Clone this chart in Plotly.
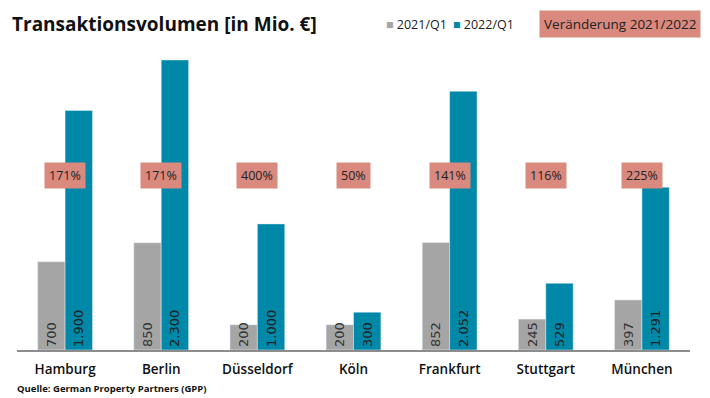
import plotly.graph_objects as go

cities = ["Hamburg", "Berlin", "Düsseldorf", "Köln", "Frankfurt", "Stuttgart", "München"]
q1_2021 = [700, 850, 200, 200, 852, 245, 397]
q1_2022 = [1900, 2300, 1000, 300, 2052, 529, 1291]
labels_2021 = ["700", "850", "200", "200", "852", "245", "397"]
labels_2022 = ["1.900", "2.300", "1.000", "300", "2.052", "529", "1.291"]
changes = [f"{round((b - a) / a * 100)}%" for a, b in zip(q1_2021, q1_2022)]

GREY = "#a5a5a5"
TEAL = "#0088a8"
SALMON = "#d9897e"
FONT = "Open Sans"

fig = go.Figure()
fig.add_bar(x=cities, y=q1_2021, name="2021/Q1", marker_color=GREY,
            text=labels_2021, textposition="inside", textangle=-90,
            insidetextanchor="start", cliponaxis=False,
            textfont=dict(family="DejaVu Sans", size=13, color="#333333"))
fig.add_bar(x=cities, y=q1_2022, name="2022/Q1", marker_color=TEAL,
            text=labels_2022, textposition="inside", textangle=-90,
            insidetextanchor="start", cliponaxis=False,
            textfont=dict(family="DejaVu Sans", size=13, color="#222222"))

for c, t in zip(cities, changes):
    fig.add_annotation(x=c, y=1385, text=t, showarrow=False,
                       bgcolor=SALMON, borderpad=4,
                       font=dict(family=FONT, size=12.5, color="#222222"))

fig.add_annotation(xref="paper", yref="paper", x=1.017, y=1.078, xanchor="right",
                   yanchor="middle", text="Veränderung 2021/2022", showarrow=False,
                   bgcolor=SALMON, borderpad=4,
                   font=dict(family=FONT, size=13.5, color="#222222"))
fig.add_annotation(xref="paper", yref="paper", x=0.545, y=1.078, xanchor="left",
                   yanchor="middle",
                   text=f"<span style='color:{GREY}'>■</span> 2021/Q1",
                   showarrow=False, font=dict(family=FONT, size=12.5, color="#222222"))
fig.add_annotation(xref="paper", yref="paper", x=0.645, y=1.078, xanchor="left",
                   yanchor="middle",
                   text=f"<span style='color:{TEAL}'>■</span> 2022/Q1",
                   showarrow=False, font=dict(family=FONT, size=12.5, color="#222222"))
fig.add_annotation(xref="paper", yref="paper", x=-0.01, y=1.078, xanchor="left",
                   yanchor="middle", text="<b>Transaktionsvolumen [in Mio. €]</b>",
                   showarrow=False, font=dict(family=FONT, size=19, color="#111111"))
fig.add_annotation(xref="paper", yref="paper", x=-0.003, y=-0.128, xanchor="left",
                   yanchor="middle", text="<b>Quelle: German Property Partners (GPP)</b>",
                   showarrow=False, font=dict(family=FONT, size=9.5, color="#111111"))

fig.update_layout(
    width=710, height=398,
    margin=dict(l=17, r=20, t=48, b=48),
    plot_bgcolor="white", paper_bgcolor="white",
    barmode="group", bargap=0.43, bargroupgap=0,
    uniformtext=dict(minsize=13, mode="show"),
    showlegend=False,
    xaxis=dict(showline=True, linecolor="#8c8c8c", linewidth=2, ticks="",
               ticklabelstandoff=6,
               tickfont=dict(family=FONT, size=13.5, color="#111111", weight=600),
               showgrid=False),
    yaxis=dict(range=[0, 2395], visible=False, showgrid=False),
)

fig.write_html("out.html", config={"displayModeBar": False},
               post_script="document.body.style.margin='0';")
